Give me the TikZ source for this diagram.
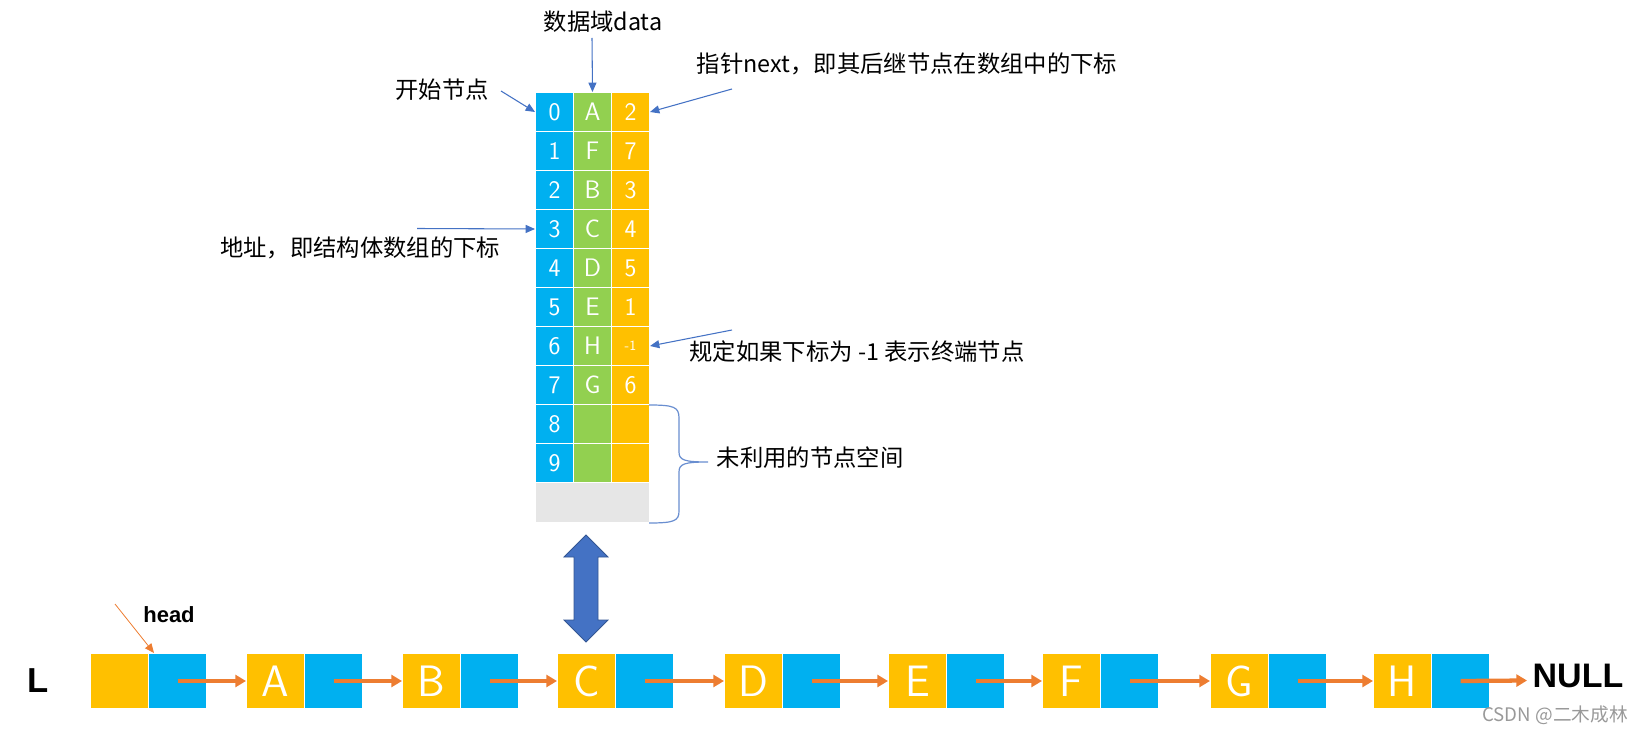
\documentclass[tikz,border=0pt]{standalone}
\usepackage{fontspec}
\setmainfont{Noto Sans CJK SC}
\newfontfamily\latinbold{Liberation Sans}
\usetikzlibrary{arrows.meta}
\definecolor{cblue}{HTML}{00B0F0}
\definecolor{cgreen}{HTML}{92D050}
\definecolor{cyellow}{HTML}{FFC000}
\definecolor{cgray}{HTML}{E6E6E6}
\definecolor{ablue}{HTML}{4472C4}
\definecolor{corange}{HTML}{ED7D31}
\tikzset{
  cell/.style={draw=white, line width=0.75pt, inner sep=0pt,
    minimum width=28.5pt, minimum height=29.25pt, anchor=north west,
    text=white, font=\sffamily\fontsize{19}{19}\selectfont},
  idx/.style={cell, fill=cblue},
  dat/.style={cell, fill=cgreen},
  nxt/.style={cell, fill=cyellow},
  lbl/.style={font=\fontsize{17.5}{17.5}\selectfont, inner sep=0pt},
  ptr/.style={draw=ablue, line width=0.8pt, -{Triangle[length=7pt,width=6pt]}},
  lbox/.style={draw=white, line width=0.75pt, inner sep=0pt,
    minimum width=43.5pt, minimum height=41.25pt, anchor=north west,
    text=white, font=\sffamily\fontsize{33}{33}\selectfont},
  ldat/.style={lbox, fill=cyellow},
  lnxt/.style={lbox, fill=cblue},
  link/.style={draw=corange, line width=3.2pt, -{Triangle[length=8pt,width=9pt]}},
  hptr/.style={draw=corange, line width=0.6pt, -{Triangle[length=7pt,width=6pt]}},
}
\begin{document}
\begin{tikzpicture}[x=0.75pt,y=-0.75pt]
\useasboundingbox (0,0) rectangle (1646,734);
% array table
\foreach \i/\d/\n in {0/A/2,1/F/7,2/B/3,3/C/4,4/D/5,5/E/1,6/H/{\fontsize{10.5}{10.5}\selectfont -1},7/G/6,8/{}/{},9/{}/{}}{
  \node[idx] (i\i) at (535,92+39*\i) {\i};
  \node[dat] (d\i) at (573,92+39*\i) {\d};
  \node[nxt] (n\i) at (611,92+39*\i) {\n};
}
\node[cell, fill=cgray, minimum width=85.5pt, minimum height=30pt] (free) at (535,482) {};
% labels and pointers
\node[lbl] (ldata) at (603,22) {数据域data};
\coordinate (pdata) at (592,38);
\draw[ptr] (pdata) -- (d0.north);
\node[lbl] (lnext) at (907,64) {指针next，即其后继节点在数组中的下标};
\coordinate (pnext) at (732,89);
\draw[ptr] (pnext) -- (n0.east);
\node[lbl] (lstart) at (442,90) {开始节点};
\coordinate (pstart) at (501,91);
\draw[ptr] (pstart) -- (i0.west);
\node[lbl] (laddr) at (360,248) {地址，即结构体数组的下标};
\coordinate (paddr) at (417,228.5);
\draw[ptr] (paddr) -- (i3.west);
\node[lbl] (lend) at (857,352) {规定如果下标为 -1 表示终端节点};
\coordinate (pend) at (732,330);
\draw[ptr] (pend) -- (n6.east);
\node[lbl] (lfree) at (810,458) {未利用的节点空间};
% brace
\draw[ablue!80, line width=0.9pt] (649,405) .. controls (674,405) and (679,407) .. (679,418)
  -- (679,452) .. controls (679,460) and (684,462) .. (708,462)
  .. controls (684,462) and (679,464) .. (679,472)
  -- (679,511) .. controls (679,521) and (674,523) .. (649,523);
% double arrow
\fill[ablue, draw=ablue!75!black, line width=0.6pt] (586,535) -- (608,557) -- (598,557) -- (598,620) -- (608,620)
  -- (586,642) -- (564,620) -- (574,620) -- (574,557) -- (564,557) -- cycle;
% linked list
\foreach \nm/\x/\t in {h/90/{},a/246/A,b/402/B,c/557/C,d/724/D,e/888/E,f/1042/F,g/1210/G,hh/1373/H}{
  \node[ldat] (\nm d) at (\x,653) {\t};
  \node[lnxt] (\nm n) at (\x+58,653) {};
}
\foreach \p/\q in {h/a,a/b,b/c,c/d,d/e,e/f,f/g,g/hh}{
  \draw[link] (\p n.center) -- (\q d.west);
}
\node[font=\latinbold\bfseries\fontsize{25.5}{25.5}\selectfont, inner sep=0pt] (nul) at (1578,676) {NULL};
\coordinate (nullend) at (1527,680.5);
\draw[link] (hhn.center) -- (nullend);
\node[font=\latinbold\bfseries\fontsize{26}{26}\selectfont, inner sep=0pt] (lL) at (38,681) {L};
\node[font=\latinbold\bfseries\fontsize{16.5}{16.5}\selectfont, inner sep=0pt] (lhead) at (169,615) {head};
\coordinate (phead) at (115,604);
\draw[hptr] (phead) -- ([xshift=4.5pt]hn.north west);
\node[text=black!40, font=\fontsize{14}{14}\selectfont, inner sep=0pt] (wm) at (1555,715) {CSDN @二木成林};
\end{tikzpicture}
\end{document}
